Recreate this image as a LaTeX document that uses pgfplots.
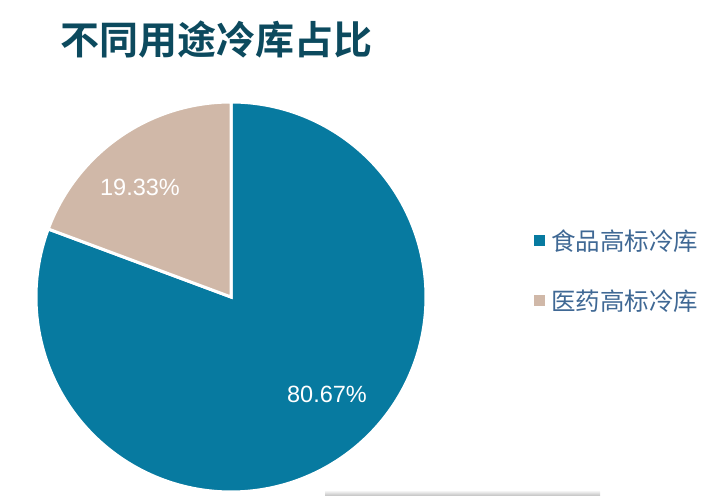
\documentclass[border=0pt]{standalone}
\usepackage{pgfplots}
\pgfplotsset{compat=1.18}
\usepackage{fontspec}
\setmainfont{Liberation Sans}
\newfontfamily\cjk{Noto Sans CJK SC}
\newfontfamily\cjkbold{Noto Sans CJK SC Bold}

\definecolor{foodteal}{HTML}{077AA0}
\definecolor{medbeige}{HTML}{D0B8A8}
\definecolor{titlecol}{HTML}{0C4A5E}
\definecolor{legcol}{HTML}{3F6894}

% shares in percent
\def\food{80.67}
\def\med{19.33}

\begin{document}
\begin{tikzpicture}
\begin{axis}[
    scale only axis,
    width=706bp, height=496bp,
    xmin=0, xmax=706, ymin=0, ymax=496,
    hide axis,
    clip=false,
    legend style={
        at={(axis cs:534,225.5)}, anchor=west,
        draw=none, fill=none, inner sep=0pt,
        font=\cjk\fontsize{24.5bp}{27bp}\selectfont,
        text=legcol, row sep=34bp,
        cells={anchor=west},
    },
    legend image code/.code={
        \fill[#1,draw=none] (0bp,-5.5bp) rectangle (11bp,5.5bp);
    },
    legend cell align=left,
]
% keep the page the size of the reference
\path (axis cs:0,0) rectangle (axis cs:706,496);

% pie centre (231,199), radius 195; slices start at 12 o'clock
\pgfmathsetmacro{\startmed}{90}
\pgfmathsetmacro{\endmed}{90+3.6*\med}
\pgfmathsetmacro{\endfood}{\endmed+3.6*\food}

\addplot[fill=foodteal, draw=white, line width=3bp, domain=\endmed:\endfood, samples=200, variable=\t]
    ({231+195*cos(\t)}, {199+195*sin(\t)}) -- (axis cs:231,199) -- cycle;
\addlegendentry{\hspace{4bp}食品高标冷库}

\addplot[fill=medbeige, draw=white, line width=3bp, domain=\startmed:\endmed, samples=60, variable=\t]
    ({231+195*cos(\t)}, {199+195*sin(\t)}) -- (axis cs:231,199) -- cycle;
\addlegendentry{\hspace{4bp}医药高标冷库}

% slice labels
\node[text=white, font=\fontsize{23.5bp}{27bp}\selectfont] at (axis cs:140,309) {19.33\%};
\node[text=white, font=\fontsize{23.5bp}{27bp}\selectfont] at (axis cs:327,102) {80.67\%};

% title
\node[text=titlecol, anchor=west, font=\cjkbold\fontsize{39bp}{43bp}\selectfont] at (axis cs:57,456) {不同用途冷库占比};

% faint shadow strip at the bottom
\shade[top color=white, bottom color=black!25] (axis cs:325,0) rectangle (axis cs:600,6);
\end{axis}
\end{tikzpicture}
\end{document}
